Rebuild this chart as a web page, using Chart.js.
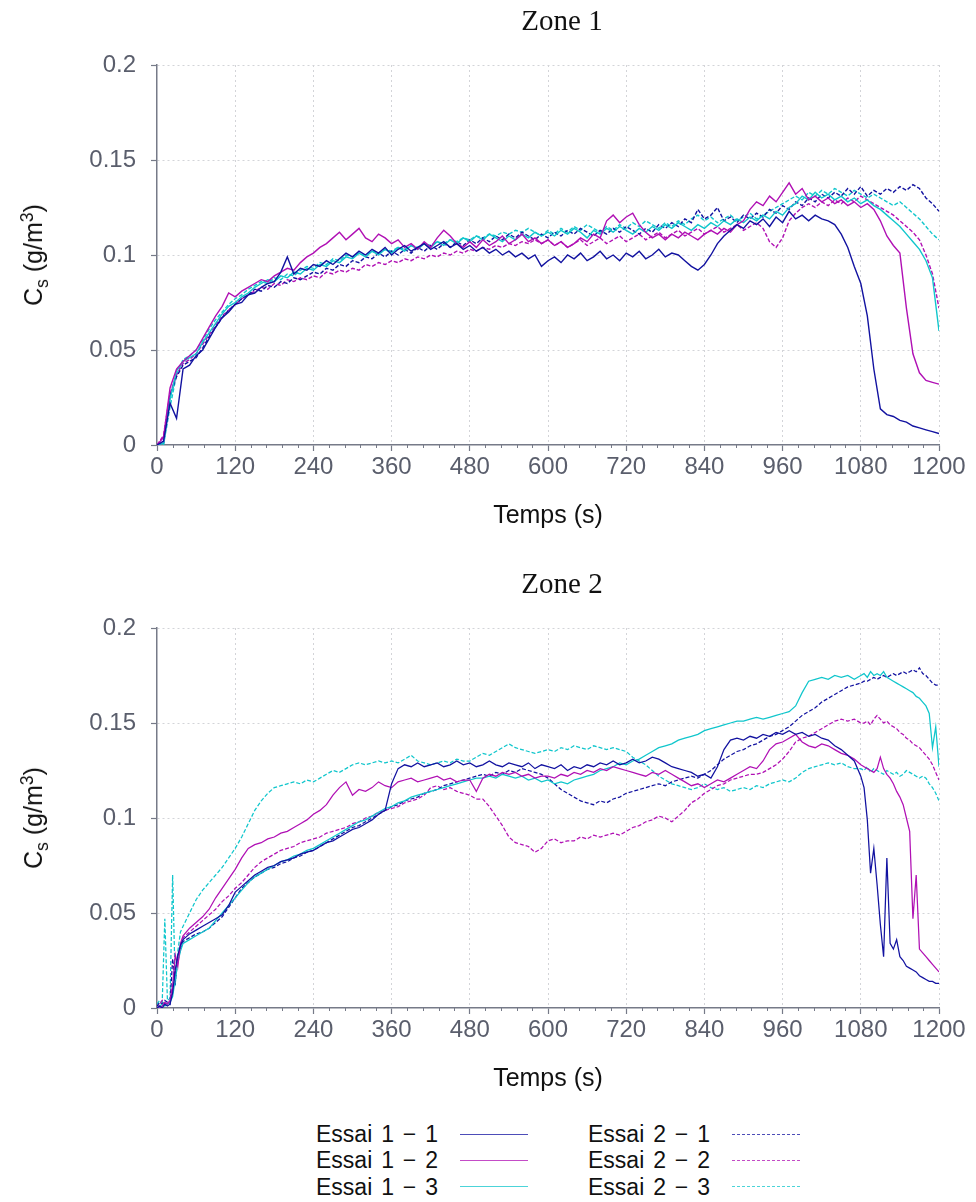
<!DOCTYPE html>
<html><head><meta charset="utf-8">
<script src="https://cdn.jsdelivr.net/npm/chart.js@4.4.1/dist/chart.umd.min.js"></script>
<style>
html,body{margin:0;padding:0;background:#fff;}
#wrap{position:relative;width:976px;height:1202px;overflow:hidden;background:#fff;}
canvas{position:absolute;left:0;}
.ztitle{position:absolute;left:462px;width:200px;text-align:center;font:29px/29px "Liberation Serif",serif;color:#111;}
.ytitle{position:absolute;white-space:nowrap;font:25px/30px "Liberation Sans",Arial,sans-serif;color:#111;transform:translate(-50%,-50%) rotate(-90deg);}
.ytitle sub,.ytitle sup{font-size:70%;line-height:0;}
.leg{position:absolute;font:23px/26px "Liberation Sans",Arial,sans-serif;word-spacing:2.5px;color:#111;white-space:pre;}
.ll{position:absolute;height:0;width:68px;}
</style></head>
<body>
<div id="wrap">
  <canvas id="c1" width="976" height="545" style="top:0px"></canvas>
  <canvas id="c2" width="976" height="545" style="top:563px"></canvas>
  <div class="ztitle" style="top:6px">Zone 1</div>
  <div class="ztitle" style="top:569px">Zone 2</div>
  <div class="ytitle" style="left:33px;top:255px">C<sub>s</sub> (g/m<sup>3</sup>)</div>
  <div class="ytitle" style="left:33px;top:818px">C<sub>s</sub> (g/m<sup>3</sup>)</div>
  <div id="legend"></div>
</div>
<script>
// ---------- DATA ----------
const xTickLabels = ['0','120','240','360','480','600','720','840','960','1080','1200'];
const yTickLabels = ['0','0.05','0.1','0.15','0.2'];
const seriesNames = ['Essai 1 \u2212 1','Essai 1 \u2212 2','Essai 1 \u2212 3','Essai 2 \u2212 1','Essai 2 \u2212 2','Essai 2 \u2212 3'];

// Zone 1 time (s)
const time1 = [0,10,20,30,40,50,60,70,80,90,100,110,120,130,140,150,160,170,180,190,200,210,220,230,240,250,260,270,280,290,300,310,320,330,340,350,360,370,380,390,400,410,420,430,440,450,460,470,480,490,500,510,520,530,540,550,560,570,580,590,600,610,620,630,640,650,660,670,680,690,700,710,720,730,740,750,760,770,780,790,800,810,820,830,840,850,860,870,880,890,900,910,920,930,940,950,960,970,980,990,1000,1010,1020,1030,1040,1050,1060,1070,1080,1090,1100,1110,1120,1130,1140,1150,1160,1170,1180,1190,1200];

const z1_e11 = [0,0.002,0.022,0.014,0.040,0.042,0.047,0.050,0.056,0.062,
0.067,0.070,0.074,0.075,0.079,0.080,0.083,0.085,0.086,0.091,
0.099,0.090,0.093,0.092,0.095,0.094,0.097,0.095,0.098,0.101,
0.099,0.102,0.100,0.103,0.101,0.104,0.100,0.103,0.105,0.102,
0.104,0.106,0.103,0.105,0.107,0.104,0.106,0.103,0.105,0.102,
0.104,0.101,0.103,0.100,0.102,0.099,0.101,0.098,0.100,0.094,
0.097,0.099,0.096,0.100,0.098,0.101,0.097,0.099,0.102,0.098,
0.100,0.097,0.101,0.099,0.102,0.098,0.100,0.103,0.099,0.101,
0.100,0.097,0.094,0.092,0.095,0.100,0.106,0.110,0.113,0.116,
0.114,0.118,0.116,0.119,0.115,0.120,0.117,0.123,0.119,0.121,
0.118,0.121,0.119,0.118,0.116,0.111,0.104,0.094,0.085,0.068,
0.040,0.019,0.016,0.015,0.013,0.012,0.010,0.009,0.008,0.007,
0.006];
const z1_e12 = [0,0.004,0.030,0.040,0.044,0.047,0.050,0.056,0.062,0.068,
0.073,0.080,0.078,0.081,0.083,0.085,0.087,0.086,0.089,0.091,
0.093,0.092,0.096,0.099,0.101,0.104,0.106,0.109,0.112,0.108,
0.111,0.114,0.109,0.107,0.111,0.109,0.106,0.108,0.104,0.106,
0.103,0.107,0.104,0.109,0.113,0.110,0.106,0.104,0.107,0.104,
0.108,0.105,0.107,0.110,0.106,0.108,0.111,0.107,0.109,0.106,
0.108,0.105,0.107,0.104,0.106,0.109,0.107,0.111,0.109,0.118,
0.121,0.117,0.120,0.122,0.116,0.112,0.109,0.111,0.108,0.111,
0.109,0.112,0.110,0.108,0.111,0.113,0.111,0.114,0.112,0.116,
0.118,0.124,0.128,0.126,0.131,0.128,0.133,0.138,0.132,0.135,
0.129,0.131,0.128,0.130,0.127,0.129,0.126,0.128,0.125,0.127,
0.124,0.118,0.110,0.105,0.101,0.072,0.048,0.038,0.034,0.033,
0.032];
const z1_e13 = [0,0.001,0.024,0.039,0.044,0.046,0.048,0.054,0.059,0.064,
0.069,0.073,0.075,0.078,0.080,0.083,0.085,0.087,0.086,0.089,
0.088,0.091,0.090,0.093,0.092,0.095,0.094,0.097,0.096,0.099,
0.098,0.101,0.099,0.102,0.100,0.103,0.101,0.104,0.102,0.105,
0.103,0.106,0.104,0.107,0.105,0.108,0.106,0.109,0.107,0.110,
0.108,0.111,0.109,0.107,0.110,0.108,0.111,0.109,0.112,0.110,
0.112,0.110,0.113,0.111,0.114,0.112,0.109,0.113,0.111,0.114,
0.112,0.115,0.113,0.111,0.114,0.112,0.115,0.113,0.116,0.114,
0.117,0.115,0.113,0.116,0.114,0.117,0.115,0.118,0.116,0.119,
0.117,0.120,0.118,0.121,0.119,0.123,0.121,0.125,0.127,0.131,
0.129,0.133,0.130,0.132,0.129,0.131,0.128,0.130,0.127,0.129,
0.126,0.124,0.121,0.118,0.115,0.111,0.107,0.103,0.097,0.088,
0.060];
const z1_e21 = [0,0.001,0.026,0.036,0.042,0.044,0.046,0.051,0.057,0.062,
0.067,0.071,0.074,0.077,0.079,0.082,0.081,0.084,0.083,0.086,
0.085,0.088,0.087,0.089,0.091,0.090,0.093,0.092,0.095,0.094,
0.097,0.096,0.099,0.098,0.101,0.099,0.102,0.100,0.103,0.101,
0.104,0.102,0.105,0.103,0.106,0.104,0.107,0.105,0.108,0.106,
0.109,0.107,0.110,0.108,0.111,0.109,0.112,0.110,0.108,0.111,
0.109,0.112,0.110,0.113,0.111,0.114,0.112,0.110,0.113,0.111,
0.114,0.112,0.115,0.113,0.111,0.114,0.112,0.116,0.114,0.117,
0.115,0.119,0.117,0.124,0.119,0.121,0.125,0.118,0.120,0.117,
0.121,0.119,0.122,0.120,0.124,0.122,0.126,0.124,0.128,0.126,
0.130,0.128,0.132,0.130,0.133,0.131,0.135,0.132,0.136,0.131,
0.134,0.132,0.135,0.133,0.136,0.134,0.137,0.135,0.130,0.127,
0.123];
const z1_e22 = [0,0.005,0.027,0.037,0.043,0.045,0.048,0.053,0.058,0.063,
0.068,0.071,0.074,0.077,0.079,0.081,0.083,0.082,0.085,0.084,
0.087,0.086,0.088,0.087,0.089,0.088,0.091,0.090,0.092,0.091,
0.093,0.092,0.095,0.094,0.096,0.095,0.097,0.096,0.098,0.097,
0.099,0.098,0.100,0.099,0.101,0.100,0.102,0.101,0.103,0.102,
0.104,0.103,0.105,0.104,0.106,0.105,0.107,0.106,0.108,0.106,
0.108,0.105,0.107,0.104,0.106,0.108,0.105,0.107,0.109,0.106,
0.108,0.110,0.107,0.109,0.111,0.108,0.110,0.112,0.109,0.111,
0.113,0.110,0.112,0.114,0.111,0.113,0.115,0.112,0.114,0.116,
0.113,0.115,0.117,0.114,0.107,0.104,0.109,0.118,0.122,0.125,
0.127,0.125,0.128,0.126,0.129,0.127,0.130,0.128,0.131,0.129,
0.127,0.125,0.123,0.121,0.118,0.115,0.112,0.108,0.100,0.090,
0.072];
const z1_e23 = [0,0.000,0.020,0.037,0.045,0.047,0.050,0.055,0.061,0.066,
0.070,0.074,0.077,0.079,0.082,0.084,0.086,0.085,0.088,0.087,
0.090,0.089,0.092,0.094,0.093,0.096,0.095,0.098,0.097,0.100,
0.099,0.101,0.100,0.102,0.101,0.103,0.102,0.104,0.103,0.105,
0.104,0.106,0.105,0.107,0.106,0.108,0.107,0.109,0.108,0.110,
0.109,0.111,0.110,0.112,0.111,0.113,0.112,0.114,0.112,0.110,
0.113,0.111,0.114,0.112,0.115,0.113,0.116,0.114,0.112,0.115,
0.113,0.116,0.114,0.117,0.115,0.118,0.116,0.114,0.117,0.115,
0.118,0.116,0.119,0.121,0.118,0.120,0.117,0.119,0.121,0.118,
0.120,0.122,0.119,0.121,0.123,0.125,0.127,0.129,0.131,0.129,
0.133,0.131,0.134,0.132,0.135,0.133,0.131,0.134,0.132,0.130,
0.132,0.130,0.128,0.126,0.128,0.125,0.122,0.119,0.115,0.111,
0.108];

// Zone 2 time (s)
const time2 = [0,4,8,12,16,20,24,28,32,36,40,
50,60,70,80,90,100,110,120,130,140,
150,160,170,180,190,200,210,220,230,240,
250,260,270,280,290,300,310,320,330,340,
350,360,370,380,390,400,410,420,430,440,
450,460,470,480,490,500,510,520,530,540,
550,560,570,580,590,600,610,620,630,640,
650,660,670,680,690,700,710,720,730,740,
750,760,770,780,790,800,810,820,830,840,
850,860,870,880,890,900,910,920,930,940,
950,960,970,980,990,1000,1010,1020,1030,1040,
1050,1060,1070,1080,
1085,1090,1095,1100,1105,1110,1115,1120,1125,1130,
1135,1140,1145,1150,1155,1160,1165,1170,1175,1180,
1185,1190,1195,1200];

const z2_e11 = [0,0.001,0,0.002,0.001,0.002,0.008,0.020,0.028,0.033,0.036,
0.039,0.041,0.043,0.045,0.047,0.049,0.054,0.061,0.064,0.067,
0.070,0.072,0.074,0.075,0.077,0.078,0.079,0.081,0.082,0.083,
0.085,0.087,0.088,0.090,0.092,0.094,0.095,0.097,0.099,0.102,
0.104,0.118,0.126,0.128,0.127,0.129,0.127,0.128,0.129,0.127,
0.128,0.130,0.128,0.129,0.127,0.128,0.130,0.128,0.127,0.129,
0.128,0.127,0.129,0.126,0.128,0.127,0.126,0.128,0.125,0.127,
0.126,0.128,0.127,0.129,0.128,0.130,0.128,0.129,0.131,0.129,
0.130,0.132,0.131,0.129,0.127,0.126,0.125,0.124,0.122,0.123,
0.121,0.127,0.136,0.141,0.142,0.141,0.143,0.142,0.144,0.143,
0.145,0.144,0.146,0.144,0.145,0.143,0.144,0.142,0.141,0.138,
0.136,0.133,0.130,0.122,
0.116,0.099,0.071,0.084,0.065,0.044,0.027,0.079,0.034,0.031,
0.036,0.027,0.025,0.022,0.021,0.020,0.019,0.017,0.016,0.015,
0.014,0.014,0.013,0.013];
const z2_e12 = [0,0,0.001,0.003,0.002,0.004,0.012,0.028,0.022,0.034,0.038,
0.042,0.045,0.048,0.052,0.058,0.063,0.068,0.073,0.079,0.084,
0.086,0.087,0.089,0.090,0.092,0.093,0.095,0.097,0.099,0.102,
0.104,0.107,0.112,0.116,0.119,0.112,0.115,0.114,0.116,0.119,
0.117,0.116,0.119,0.120,0.121,0.119,0.120,0.121,0.122,0.120,
0.121,0.119,0.120,0.120,0.114,0.121,0.123,0.122,0.124,0.123,
0.124,0.122,0.123,0.121,0.122,0.122,0.121,0.123,0.122,0.124,
0.123,0.125,0.124,0.126,0.125,0.127,0.126,0.125,0.124,0.123,
0.122,0.124,0.123,0.125,0.123,0.121,0.119,0.117,0.118,0.116,
0.118,0.120,0.119,0.121,0.123,0.125,0.127,0.126,0.130,0.136,
0.139,0.140,0.142,0.144,0.140,0.138,0.137,0.139,0.138,0.136,
0.134,0.133,0.131,0.128,
0.127,0.126,0.125,0.124,0.126,0.132,0.126,0.123,0.121,0.118,
0.114,0.111,0.107,0.100,0.093,0.047,0.070,0.031,0.029,0.027,
0.025,0.023,0.021,0.019];
const z2_e13 = [0,0.001,0.002,0.001,0.002,0.003,0.006,0.015,0.024,0.030,0.034,
0.036,0.038,0.040,0.042,0.046,0.050,0.054,0.058,0.062,0.066,
0.069,0.071,0.073,0.075,0.077,0.078,0.080,0.081,0.083,0.084,
0.086,0.088,0.090,0.092,0.094,0.096,0.098,0.099,0.101,0.103,
0.105,0.106,0.108,0.109,0.111,0.112,0.113,0.114,0.115,0.116,
0.117,0.118,0.119,0.120,0.121,0.121,0.122,0.121,0.123,0.122,
0.121,0.122,0.120,0.121,0.119,0.120,0.118,0.119,0.118,0.120,
0.121,0.122,0.123,0.125,0.126,0.127,0.129,0.128,0.130,0.131,
0.133,0.135,0.137,0.138,0.139,0.141,0.142,0.143,0.144,0.146,
0.147,0.148,0.149,0.150,0.151,0.151,0.152,0.153,0.152,0.153,
0.154,0.155,0.156,0.159,0.166,0.172,0.173,0.174,0.173,0.175,
0.174,0.175,0.173,0.175,
0.176,0.174,0.177,0.175,0.176,0.175,0.177,0.174,0.173,0.172,
0.171,0.170,0.169,0.168,0.167,0.166,0.164,0.163,0.161,0.159,
0.155,0.137,0.148,0.127];
const z2_e21 = [0.001,0.003,0.002,0.004,0.003,0.002,0.026,0.014,0.025,0.031,0.035,
0.037,0.039,0.040,0.042,0.045,0.048,0.053,0.058,0.063,0.066,
0.069,0.071,0.073,0.074,0.076,0.077,0.079,0.080,0.082,0.083,
0.085,0.087,0.089,0.091,0.093,0.095,0.096,0.098,0.100,0.102,
0.104,0.106,0.107,0.109,0.110,0.111,0.113,0.114,0.115,0.117,
0.118,0.119,0.120,0.121,0.122,0.123,0.122,0.124,0.123,0.125,
0.124,0.126,0.125,0.124,0.123,0.121,0.118,0.115,0.113,0.111,
0.109,0.108,0.107,0.109,0.108,0.110,0.111,0.113,0.114,0.115,
0.116,0.117,0.118,0.117,0.119,0.120,0.121,0.122,0.121,0.123,
0.125,0.128,0.131,0.133,0.135,0.136,0.138,0.139,0.141,0.143,
0.144,0.146,0.148,0.151,0.154,0.156,0.158,0.161,0.163,0.165,
0.167,0.169,0.170,0.171,
0.172,0.172,0.173,0.174,0.173,0.174,0.175,0.174,0.175,0.176,
0.175,0.176,0.177,0.176,0.177,0.178,0.177,0.179,0.176,0.175,
0.173,0.171,0.170,0.170];
const z2_e22 = [0,0.002,0.004,0.002,0.003,0.003,0.010,0.018,0.027,0.032,0.037,
0.040,0.043,0.046,0.049,0.052,0.056,0.059,0.063,0.066,0.070,
0.074,0.077,0.079,0.081,0.083,0.084,0.085,0.087,0.088,0.089,
0.090,0.092,0.093,0.094,0.095,0.097,0.098,0.100,0.101,0.103,
0.104,0.105,0.106,0.108,0.109,0.110,0.112,0.116,0.117,0.115,
0.116,0.114,0.113,0.112,0.110,0.110,0.106,0.101,0.096,0.090,
0.087,0.086,0.085,0.082,0.084,0.088,0.089,0.087,0.088,0.088,
0.090,0.089,0.091,0.090,0.091,0.092,0.091,0.093,0.095,0.096,
0.098,0.099,0.101,0.100,0.098,0.101,0.104,0.108,0.110,0.113,
0.115,0.117,0.118,0.120,0.121,0.122,0.123,0.123,0.124,0.126,
0.128,0.131,0.135,0.140,0.142,0.143,0.145,0.147,0.149,0.151,
0.152,0.151,0.152,0.150,
0.150,0.151,0.149,0.152,0.154,0.152,0.150,0.151,0.149,0.148,
0.147,0.145,0.144,0.142,0.141,0.139,0.138,0.137,0.135,0.133,
0.131,0.128,0.124,0.120];
const z2_e23 = [0.002,0.004,0.003,0.047,0.004,0.005,0.070,0.012,0.030,0.040,0.043,
0.050,0.057,0.062,0.066,0.070,0.074,0.079,0.084,0.090,0.097,
0.104,0.109,0.113,0.116,0.117,0.118,0.119,0.118,0.120,0.119,
0.121,0.123,0.125,0.124,0.126,0.128,0.129,0.128,0.129,0.130,
0.129,0.130,0.129,0.131,0.133,0.130,0.129,0.128,0.129,0.130,
0.129,0.131,0.130,0.130,0.132,0.134,0.133,0.135,0.137,0.139,
0.137,0.136,0.135,0.134,0.135,0.136,0.135,0.137,0.136,0.138,
0.137,0.136,0.138,0.137,0.136,0.137,0.136,0.135,0.132,0.130,
0.128,0.125,0.122,0.120,0.118,0.117,0.116,0.115,0.116,0.118,
0.116,0.115,0.116,0.114,0.115,0.116,0.115,0.117,0.116,0.118,
0.119,0.120,0.119,0.121,0.124,0.126,0.127,0.128,0.129,0.128,
0.129,0.127,0.126,0.126,
0.125,0.127,0.124,0.126,0.125,0.124,0.123,0.125,0.124,0.123,
0.124,0.122,0.123,0.125,0.124,0.123,0.122,0.121,0.122,0.121,
0.118,0.116,0.113,0.109];

// ---------- STYLE ----------
const COLORS = ['#1212a0','#b010b4','#10c6cc','#1212a0','#b010b4','#10c6cc'];
const DASHES = [[],[],[],[4,2],[4,2],[4,2]];
const AXIS = '#767a88', GRID = '#d3d4d8', TICKTXT = '#5a5e6c', CLEAR = 'rgba(0,0,0,0)';
const FONT = '"Liberation Sans", Arial, sans-serif';

const minorTicks = {
  id: 'minorTicks',
  afterDraw(chart) {
    const s = chart.scales.x, ctx = chart.ctx;
    ctx.save();
    ctx.strokeStyle = AXIS; ctx.lineWidth = 1;
    s.ticks.forEach(t => {
      if (Math.round(t.value) % 120 !== 0) {
        const px = Math.round(s.getPixelForValue(t.value)) + 0.5;
        ctx.beginPath(); ctx.moveTo(px, s.top); ctx.lineTo(px, s.top + 3); ctx.stroke();
      }
    });
    ctx.restore();
  }
};

function makeChart(id, times, series, lw) {
  const datasets = series.map((vals, k) => ({
    label: seriesNames[k],
    data: times.map((t, i) => ({x: t, y: vals[i]})),
    borderColor: COLORS[k],
    borderWidth: lw,
    borderDash: DASHES[k],
    pointRadius: 0,
    fill: false,
    tension: 0
  }));
  return new Chart(document.getElementById(id), {
    type: 'line',
    data: { datasets },
    plugins: [minorTicks],
    options: {
      responsive: false, animation: false, devicePixelRatio: 1,
      layout: { padding: { top: 65, right: 37, left: 0, bottom: 0 } },
      plugins: { legend: { display: false }, tooltip: { enabled: false }, title: { display: false } },
      scales: {
        x: {
          type: 'linear', min: 0, max: 1200,
          ticks: {
            stepSize: 24, autoSkip: false, maxRotation: 0, minRotation: 0,
            callback: v => (Math.round(v) % 120 === 0 ? xTickLabels[Math.round(v) / 120] : ''),
            color: TICKTXT, font: { family: FONT, size: 24 }, padding: 2
          },
          grid: {
            color: c => (c.tick && Math.round(c.tick.value) % 120 === 0 && c.tick.value !== 0) ? GRID : CLEAR,
            tickColor: c => (c.tick && Math.round(c.tick.value) % 120 === 0) ? AXIS : CLEAR,
            tickLength: 6, lineWidth: 1, tickWidth: 1.2
          },
          border: { color: AXIS, width: 1.5, dash: [2, 3] },
          title: { display: true, text: 'Temps (s)', color: '#111', font: { family: FONT, size: 25 }, padding: { top: 0, bottom: 14 } },
          afterFit(s) { s.height = 100; }
        },
        y: {
          min: 0, max: 0.2,
          ticks: {
            stepSize: 0.05,
            callback: (v, i) => yTickLabels[i],
            color: TICKTXT, font: { family: FONT, size: 24 }, padding: 15
          },
          grid: {
            color: c => (c.tick && c.tick.value > 0.001) ? GRID : CLEAR,
            tickColor: AXIS, tickLength: 6, lineWidth: 1, tickWidth: 1.2
          },
          border: { color: AXIS, width: 1.5, dash: [2, 3] },
          afterFit(s) { s.width = 157; }
        }
      }
    }
  });
}

makeChart('c1', time1, [z1_e11, z1_e12, z1_e13, z1_e21, z1_e22, z1_e23], 1.4);
makeChart('c2', time2, [z2_e11, z2_e12, z2_e13, z2_e21, z2_e22, z2_e23], 1.25);

// ---------- LEGEND ----------
const legend = document.getElementById('legend');
const legTextX = [316, 588], legLineX = [460, 732];
const legTop = [1121, 1147, 1174], legLineY = [1134, 1160, 1186];
seriesNames.forEach((name, k) => {
  const col = k < 3 ? 0 : 1, row = k % 3;
  const t = document.createElement('div');
  t.className = 'leg'; t.textContent = name;
  t.style.left = legTextX[col] + 'px'; t.style.top = legTop[row] + 'px';
  legend.appendChild(t);
  const l = document.createElement('div');
  l.className = 'll';
  l.style.left = legLineX[col] + 'px'; l.style.top = legLineY[row] + 'px';
  l.style.borderTop = '1px ' + (col === 0 ? 'solid ' : 'dashed ') + COLORS[k];
  l.style.opacity = '0.75';
  legend.appendChild(l);
});
</script>
</body></html>
